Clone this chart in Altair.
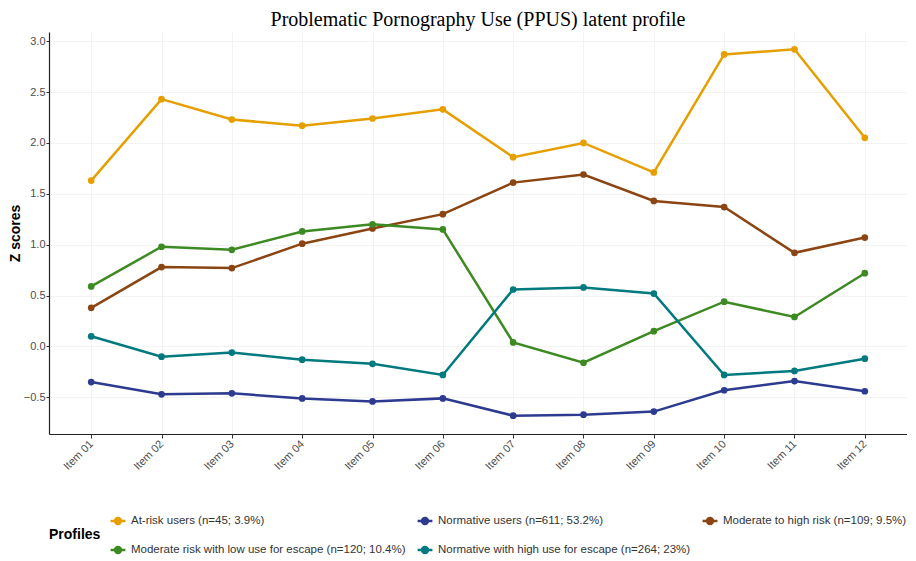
import altair as alt
import pandas as pd

items = ["Item 01", "Item 02", "Item 03", "Item 04", "Item 05", "Item 06",
         "Item 07", "Item 08", "Item 09", "Item 10", "Item 11", "Item 12"]

profiles = [
    "At-risk users (n=45; 3.9%)",
    "Normative users (n=611; 53.2%)",
    "Moderate to high risk (n=109; 9.5%)",
    "Moderate risk with low use for escape (n=120; 10.4%)",
    "Normative with high use for escape (n=264; 23%)",
]
colors = ["#E69F00", "#2C3B8F", "#8B4512", "#3E8A22", "#00797F"]

at_risk = [1.63, 2.43, 2.23, 2.17, 2.24, 2.33, 1.86, 2.00, 1.71, 2.87, 2.92, 2.05]
normative = [-0.35, -0.47, -0.46, -0.51, -0.54, -0.51, -0.68, -0.67, -0.64, -0.43, -0.34, -0.44]
mod_high = [0.38, 0.78, 0.77, 1.01, 1.16, 1.30, 1.61, 1.69, 1.43, 1.37, 0.92, 1.07]
mod_low_escape = [0.59, 0.98, 0.95, 1.13, 1.20, 1.15, 0.04, -0.16, 0.15, 0.44, 0.29, 0.72]
norm_high_escape = [0.10, -0.10, -0.06, -0.13, -0.17, -0.28, 0.56, 0.58, 0.52, -0.28, -0.24, -0.12]

series = [at_risk, normative, mod_high, mod_low_escape, norm_high_escape]
rows = []
for p, vals in zip(profiles, series):
    for it, v in zip(items, vals):
        rows.append({"Item": it, "Z": v, "Profile": p})
df = pd.DataFrame(rows)

x = alt.X("Item:N", sort=items, title=None,
          scale=alt.Scale(type="point", padding=0.6),
          axis=alt.Axis(labelAngle=-45, labelAlign="right", labelBaseline="middle",
                        labelFont="Liberation Sans", labelFontSize=11, labelColor="#4D4D4D",
                        tickColor="#333333", tickSize=4, domainColor="#222222", domainWidth=1.2,
                        grid=True, gridColor="#F3F3F3", labelPadding=4))
y = alt.Y("Z:Q", title="Z scores",
          scale=alt.Scale(domain=[-0.86, 3.09], nice=False, zero=False),
          axis=alt.Axis(values=[-0.5, 0.0, 0.5, 1.0, 1.5, 2.0, 2.5, 3.0], format=".1f",
                        labelFont="Liberation Sans", labelFontSize=11, labelColor="#4D4D4D",
                        labelPadding=1,
                        titleFont="Liberation Sans", titleFontSize=14, titleFontWeight="bold",
                        titleColor="#000000", titlePadding=1,
                        tickColor="#333333", tickSize=3, domainColor="#222222", domainWidth=1.2,
                        grid=True, gridColor="#F3F3F3"))
color = alt.Color("Profile:N", sort=profiles,
                  scale=alt.Scale(domain=profiles, range=colors),
                  legend=alt.Legend(title="Profiles", orient="bottom", columns=3,
                                    direction="horizontal", titleOrient="left",
                                    titleFont="Liberation Sans", titleFontSize=14,
                                    titleFontWeight="bold", titleColor="#000000",
                                    labelFont="Liberation Sans", labelFontSize=11.5,
                                    labelColor="#333333", labelLimit=0,
                                    columnPadding=6, rowPadding=12,
                                    symbolType="M-1,0L1,0M-0.4,0A0.4,0.4 0 1,0 0.4,0A0.4,0.4 0 1,0 -0.4,0",
                                    symbolSize=220, symbolStrokeWidth=2.5, offset=40,
                                    titlePadding=8))

base = alt.Chart(df).encode(x=x, y=y, color=color)
lines = base.mark_line(strokeWidth=2.5)
points = base.mark_point(filled=True, size=45, opacity=1)

chart = alt.layer(lines, points).properties(
    width=858, height=402,
    title=alt.TitleParams("Problematic Pornography Use (PPUS) latent profile",
                          font="Liberation Serif", fontSize=20, fontWeight="normal",
                          color="#000000", anchor="middle", offset=2),
    padding={"left": 0, "top": 2, "right": 0, "bottom": 0},
).configure_view(stroke=None)

chart.save("out.html", embed_options={"renderer": "svg", "actions": False})
